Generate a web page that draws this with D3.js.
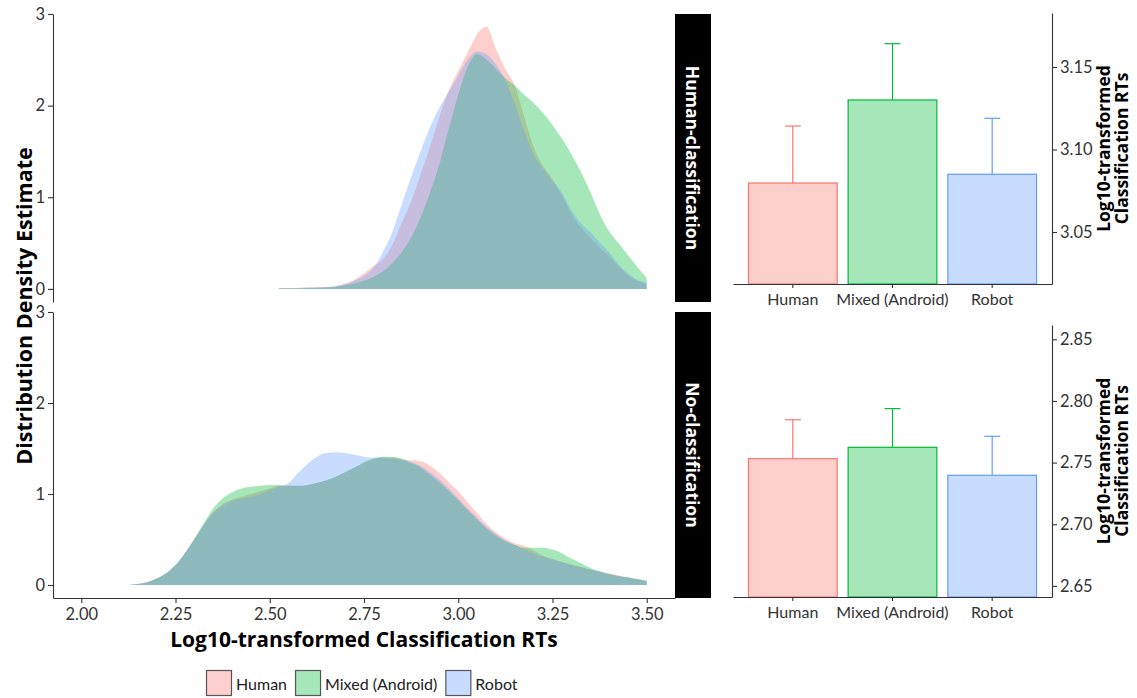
<!DOCTYPE html>
<html>
<head>
<meta charset="utf-8">
<script src="https://cdn.jsdelivr.net/npm/d3@7"></script>
<style>
  html, body { margin: 0; padding: 0; background: #fff; }
  svg text { font-family: Lato, "Open Sans", sans-serif; }
  svg text.bold { font-family: "Open Sans", Lato, sans-serif; font-weight: 700; }
</style>
</head>
<body>
<svg id="chart" width="1137" height="698"></svg>
<script>
// ---- data ----------------------------------------------------------
const groups = ["Human", "Mixed (Android)", "Robot"];
const groupColors = ["#F8766D", "#00BA38", "#619CFF"];
const facets = ["Human-classification", "No-classification"];

// density estimates of log10 RTs, Human-classification facet
const humanClassGrid = [2.525, 2.55, 2.575, 2.6, 2.625, 2.65, 2.675, 2.7, 2.725, 2.75,
  2.775, 2.8, 2.825, 2.85, 2.875, 2.9, 2.925, 2.95, 2.975, 3.0,
  3.025, 3.05, 3.075, 3.1, 3.125, 3.15, 3.175, 3.2, 3.225, 3.25,
  3.275, 3.3, 3.325, 3.35, 3.375, 3.4, 3.425, 3.45, 3.475, 3.5];
const humanClassHuman = [0.01, 0.01, 0.01, 0.015, 0.02, 0.02, 0.03, 0.06, 0.10, 0.17,
  0.25, 0.32, 0.48, 0.72, 0.95, 1.25, 1.55, 1.88, 2.17, 2.38,
  2.58, 2.78, 2.86, 2.62, 2.40, 2.22, 1.88, 1.55, 1.34, 1.20,
  1.02, 0.82, 0.67, 0.56, 0.45, 0.36, 0.25, 0.15, 0.09, 0.05];
const humanClassMixed = [0.005, 0.005, 0.005, 0.01, 0.01, 0.015, 0.02, 0.04, 0.06, 0.09,
  0.13, 0.19, 0.28, 0.40, 0.56, 0.78, 1.05, 1.36, 1.75, 2.12,
  2.42, 2.56, 2.50, 2.40, 2.30, 2.22, 2.12, 2.03, 1.92, 1.79,
  1.64, 1.47, 1.28, 1.06, 0.82, 0.63, 0.50, 0.37, 0.24, 0.12];
const humanClassRobot = [0.01, 0.01, 0.01, 0.015, 0.015, 0.02, 0.03, 0.05, 0.09, 0.14,
  0.23, 0.40, 0.62, 0.92, 1.22, 1.50, 1.76, 1.98, 2.15, 2.33,
  2.50, 2.59, 2.56, 2.45, 2.28, 2.02, 1.72, 1.47, 1.31, 1.18,
  1.05, 0.86, 0.72, 0.62, 0.51, 0.40, 0.27, 0.17, 0.10, 0.07];

// density estimates of log10 RTs, No-classification facet
const noClassGrid = [2.125, 2.15, 2.175, 2.2, 2.225, 2.25, 2.275, 2.3, 2.325, 2.35,
  2.375, 2.4, 2.425, 2.45, 2.475, 2.5, 2.525, 2.55, 2.575, 2.6,
  2.625, 2.65, 2.675, 2.7, 2.725, 2.75, 2.775, 2.8, 2.825, 2.85,
  2.875, 2.9, 2.925, 2.95, 2.975, 3.0, 3.025, 3.05, 3.075, 3.1,
  3.125, 3.15, 3.175, 3.2, 3.225, 3.25, 3.275, 3.3, 3.325, 3.35,
  3.375, 3.4, 3.425, 3.45, 3.475, 3.5];
const noClassHuman = [0.00, 0.01, 0.03, 0.07, 0.13, 0.22, 0.35, 0.50, 0.66, 0.80,
  0.89, 0.94, 0.97, 1.00, 1.03, 1.06, 1.09, 1.09, 1.09, 1.10,
  1.12, 1.15, 1.19, 1.24, 1.29, 1.34, 1.38, 1.40, 1.40, 1.38,
  1.37, 1.36, 1.31, 1.23, 1.13, 1.03, 0.91, 0.79, 0.67, 0.58,
  0.51, 0.46, 0.43, 0.38, 0.32, 0.285, 0.255, 0.225, 0.20, 0.17,
  0.15, 0.125, 0.105, 0.085, 0.065, 0.04];
const noClassMixed = [0.00, 0.01, 0.03, 0.07, 0.13, 0.22, 0.35, 0.51, 0.68, 0.84,
  0.95, 1.02, 1.06, 1.08, 1.09, 1.10, 1.10, 1.09, 1.09, 1.10,
  1.12, 1.15, 1.19, 1.24, 1.29, 1.35, 1.39, 1.41, 1.41, 1.39,
  1.34, 1.29, 1.21, 1.13, 1.03, 0.93, 0.82, 0.72, 0.62, 0.54,
  0.48, 0.44, 0.41, 0.41, 0.41, 0.39, 0.35, 0.29, 0.24, 0.19,
  0.15, 0.12, 0.10, 0.085, 0.065, 0.05];
const noClassRobot = [0.00, 0.01, 0.03, 0.07, 0.13, 0.22, 0.35, 0.50, 0.66, 0.79,
  0.87, 0.92, 0.95, 0.97, 1.00, 1.04, 1.08, 1.12, 1.23, 1.33,
  1.41, 1.45, 1.46, 1.45, 1.43, 1.41, 1.40, 1.40, 1.39, 1.37,
  1.35, 1.31, 1.24, 1.16, 1.06, 0.95, 0.84, 0.74, 0.64, 0.56,
  0.49, 0.44, 0.39, 0.35, 0.31, 0.28, 0.25, 0.22, 0.195, 0.17,
  0.145, 0.12, 0.10, 0.08, 0.06, 0.04];

// mean log10 RT and standard error per group
const humanClassMeans = [3.0797, 3.1300, 3.0850];
const humanClassSE = [0.0345, 0.0341, 0.0339];
const noClassMeans = [2.7532, 2.7624, 2.7397];
const noClassSE = [0.0316, 0.0314, 0.0316];

const densityXTicks = [2.00, 2.25, 2.50, 2.75, 3.00, 3.25, 3.50];
const densityYTicks = [0, 1, 2, 3];
const humanClassBarTicks = [3.05, 3.10, 3.15];
const noClassBarTicks = [2.65, 2.70, 2.75, 2.80, 2.85];

// ---- layout --------------------------------------------------------
const svg = d3.select("#chart");
const FILL_ALPHA = 0.35;
const axisColor = "#333333";
const tickTextColor = "#333333";

const dens = { left: 53, right: 675 };
const densRows = [{ top: 14, bottom: 302 }, { top: 312, bottom: 598 }];
const strip = { left: 675, right: 711 };
const bars = { left: 733, right: 1052 };
const barRows = [{ top: 13, bottom: 284 }, { top: 325, bottom: 597 }];

const densityPanels = [
  { grid: humanClassGrid, series: [humanClassHuman, humanClassMixed, humanClassRobot] },
  { grid: noClassGrid, series: [noClassHuman, noClassMixed, noClassRobot] }
];
const barPanels = [
  { means: humanClassMeans, se: humanClassSE, ticks: humanClassBarTicks, domain: [3.0185, 3.1827] },
  { means: noClassMeans, se: noClassSE, ticks: noClassBarTicks, domain: [2.641, 2.8616] }
];

const x = d3.scaleLinear().domain([1.925, 3.575]).range([dens.left, dens.right]);

function styleAxis(g, size) {
  g.select(".domain").attr("stroke", axisColor).attr("stroke-width", 1.1);
  g.selectAll(".tick line").attr("stroke", axisColor).attr("stroke-width", 1.1);
  g.selectAll(".tick text").attr("fill", tickTextColor).style("font-size", size || "16.5px");
}

// ---- density panels ------------------------------------------------
densityPanels.forEach((panel, r) => {
  const row = densRows[r];
  const y = d3.scaleLinear().domain([-0.143, 3.0]).range([row.bottom, row.top]);

  const g = svg.append("g");
  panel.series.forEach((vals, k) => {
    const pts = panel.grid.map((v, i) => [v, vals[i]]);
    const area = d3.area()
      .x(d => x(d[0]))
      .y0(y(0))
      .y1(d => y(d[1]))
      .curve(d3.curveMonotoneX);
    g.append("path")
      .datum(pts)
      .attr("d", area)
      .attr("fill", groupColors[k])
      .attr("fill-opacity", FILL_ALPHA)
      .attr("stroke", "none");
  });

  // y axis
  const ya = svg.append("g")
    .attr("transform", `translate(${dens.left},0)`)
    .call(d3.axisLeft(y).tickValues(densityYTicks).tickFormat(d3.format("d")).tickSize(5).tickSizeOuter(0).tickPadding(3));
  styleAxis(ya);

  // x axis only on the lower row
  if (r === densRows.length - 1) {
    const xa = svg.append("g")
      .attr("transform", `translate(0,${row.bottom})`)
      .call(d3.axisBottom(x).tickValues(densityXTicks).tickFormat(d3.format(".2f")).tickSize(5).tickSizeOuter(0).tickPadding(5));
    styleAxis(xa);
  }

  // facet strip
  svg.append("rect")
    .attr("x", strip.left).attr("y", row.top)
    .attr("width", strip.right - strip.left).attr("height", row.bottom - row.top)
    .attr("fill", "#000");
  svg.append("text")
    .attr("class", "bold")
    .attr("transform", `translate(${(strip.left + strip.right) / 2},${(row.top + row.bottom) / 2}) rotate(90)`)
    .attr("text-anchor", "middle")
    .attr("dominant-baseline", "central")
    .attr("fill", "#fff")
    .style("font-size", "17.5px")
    .text(facets[r]);
});

// density axis titles
svg.append("text")
  .attr("class", "bold")
  .attr("transform", `translate(32,${(densRows[0].top + densRows[1].bottom) / 2}) rotate(-90)`)
  .attr("text-anchor", "middle")
  .attr("fill", "#000")
  .style("font-size", "21.5px")
  .text("Distribution Density Estimate");

svg.append("text")
  .attr("class", "bold")
  .attr("x", (dens.left + dens.right) / 2)
  .attr("y", 646.5)
  .attr("text-anchor", "middle")
  .attr("fill", "#000")
  .style("font-size", "21px")
  .text("Log10-transformed Classification RTs");

// ---- bar panels ----------------------------------------------------
const xb = d3.scaleBand().domain(groups).range([bars.left, bars.right])
  .paddingInner(0.1).paddingOuter(0.15);
const capHalf = xb.step() * 0.08;

barPanels.forEach((panel, r) => {
  const row = barRows[r];
  const y = d3.scaleLinear().domain(panel.domain).range([row.bottom, row.top]);
  const g = svg.append("g");

  groups.forEach((grp, k) => {
    const m = panel.means[k];
    const top = m + panel.se[k];
    const cx = xb(grp) + xb.bandwidth() / 2;
    g.append("rect")
      .attr("x", xb(grp) + 0.5)
      .attr("y", y(m))
      .attr("width", xb.bandwidth() - 1)
      .attr("height", y(panel.domain[0]) - y(m))
      .attr("fill", groupColors[k])
      .attr("fill-opacity", FILL_ALPHA)
      .attr("stroke", groupColors[k])
      .attr("stroke-width", 1.2);
    g.append("line")
      .attr("x1", cx).attr("x2", cx)
      .attr("y1", y(m)).attr("y2", y(top))
      .attr("stroke", groupColors[k]).attr("stroke-width", 1.2);
    g.append("line")
      .attr("x1", cx - capHalf).attr("x2", cx + capHalf)
      .attr("y1", y(top)).attr("y2", y(top))
      .attr("stroke", groupColors[k]).attr("stroke-width", 1.2);
  });

  const xa = svg.append("g")
    .attr("transform", `translate(0,${row.bottom})`)
    .call(d3.axisBottom(xb).tickSize(4).tickSizeOuter(0).tickPadding(6));
  styleAxis(xa, "16px");

  const ya = svg.append("g")
    .attr("transform", `translate(${bars.right},0)`)
    .call(d3.axisRight(y).tickValues(panel.ticks).tickFormat(d3.format(".2f")).tickSize(5).tickSizeOuter(0).tickPadding(3));
  styleAxis(ya);

  const title = svg.append("text")
    .attr("class", "bold")
    .attr("transform", `translate(1110,${(row.top + row.bottom) / 2}) rotate(-90)`)
    .attr("text-anchor", "middle")
    .attr("fill", "#000")
    .style("font-size", "17.5px");
  title.append("tspan").attr("x", 0).attr("dy", 0).text("Log10-transformed");
  title.append("tspan").attr("x", 0).attr("dy", "1.0em").text("Classification RTs");
});

// ---- legend --------------------------------------------------------
const legend = svg.append("g").attr("transform", "translate(206,670)");
let lx = 0;
groups.forEach((grp, k) => {
  const item = legend.append("g").attr("transform", `translate(${lx},0)`);
  item.append("rect")
    .attr("x", 0.5).attr("y", 0.5).attr("width", 25).attr("height", 25)
    .attr("fill", groupColors[k]).attr("fill-opacity", FILL_ALPHA)
    .attr("stroke", "#555").attr("stroke-width", 1.2);
  const t = item.append("text")
    .attr("x", 30).attr("y", 13)
    .attr("dominant-baseline", "central")
    .attr("fill", "#222")
    .style("font-size", "16px")
    .text(grp);
  lx += 30 + t.node().getComputedTextLength() + 8;
});
</script>
</body>
</html>
